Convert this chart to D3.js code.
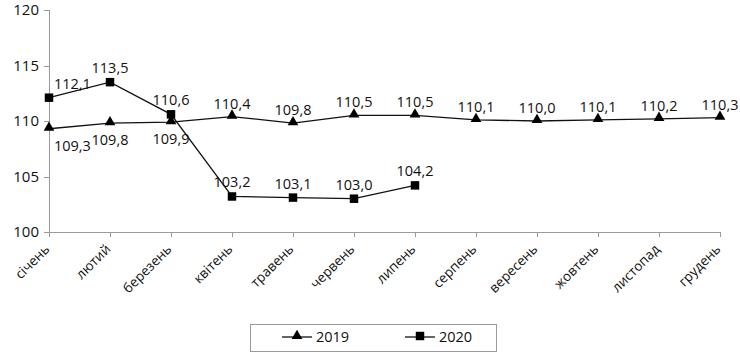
<!DOCTYPE html>
<meta charset="utf-8">
<style>
body { margin: 0; background: #fff; font-family: "Open Sans", "DejaVu Sans", sans-serif; }
.axis path, .axis line { stroke: #9a9a9a; shape-rendering: crispEdges; }
.axis text { font-size: 13.5px; fill: #111; font-family: "Open Sans", sans-serif; }
.lbl { font-size: 14.5px; fill: #111; }
.line { fill: none; stroke: #111; stroke-width: 1.3px; }
</style>
<body>
<script src="https://d3js.org/d3.v7.min.js"></script>
<script>
// months
var months = ["січень", "лютий", "березень", "квітень", "травень", "червень",
  "липень", "серпень", "вересень", "жовтень", "листопад", "грудень"];
var v2019 = [109.3, 109.8, 109.9, 110.4, 109.8, 110.5, 110.5, 110.1, 110.0, 110.1, 110.2, 110.3];
var v2020 = [112.1, 113.5, 110.6, 103.2, 103.1, 103.0, 104.2];
var yTicks = [100, 105, 110, 115, 120];

var svg = d3.select("body").append("svg")
  .attr("width", 740).attr("height", 360);

var x = d3.scalePoint().domain(months).range([49, 720]);
var y = d3.scaleLinear().domain([100, 120]).range([232, 10]);

// y axis
var ya = svg.append("g").attr("class", "axis")
  .attr("transform", "translate(49,0)")
  .call(d3.axisLeft(y).tickValues(yTicks).tickSize(5).tickPadding(5));
ya.selectAll("text").style("font-size", "15px");

// x axis
var xa = svg.append("g").attr("class", "axis")
  .attr("transform", "translate(0,232)")
  .call(d3.axisBottom(x).tickSize(5).tickSizeOuter(0));
xa.select(".domain").attr("d", "M49,0H720");
xa.selectAll("text")
  .attr("text-anchor", "end")
  .attr("dy", 0)
  .attr("y", 0)
  .attr("transform", "translate(1,18) rotate(-45)");

var line = d3.line()
  .x(function(d, i) { return x(months[i]); })
  .y(function(d) { return y(d); });

svg.append("path").datum(v2019).attr("class", "line").attr("d", line);
svg.append("path").datum(v2020).attr("class", "line").attr("d", line);

var tri = d3.symbol().type(d3.symbolTriangle).size(50);
var sq = d3.symbol().type(d3.symbolSquare).size(72);

svg.selectAll(".m19").data(v2019).enter().append("path")
  .attr("d", tri)
  .attr("transform", function(d, i) { return "translate(" + x(months[i]) + "," + (y(d) - 1) + ")"; });

svg.selectAll(".m20").data(v2020).enter().append("path")
  .attr("d", sq)
  .attr("transform", function(d, i) { return "translate(" + x(months[i]) + "," + y(d) + ")"; });

function fmt(v) { return v.toFixed(1).replace(".", ","); }

// 2019 labels: first three below, rest above
svg.selectAll(".l19").data(v2019).enter().append("text")
  .attr("class", "lbl")
  .attr("text-anchor", function(d, i) { return i == 0 ? "start" : "middle"; })
  .attr("x", function(d, i) { return x(months[i]) + (i == 0 ? 5 : 0); })
  .attr("y", function(d, i) { return i < 3 ? y(d) + 22 : y(d) - 8; })
  .text(fmt);

svg.selectAll(".l20").data(v2020).enter().append("text")
  .attr("class", "lbl")
  .attr("text-anchor", function(d, i) { return i == 0 ? "start" : "middle"; })
  .attr("x", function(d, i) { return x(months[i]) + (i == 0 ? 5 : 0); })
  .attr("y", function(d, i) { return y(d) - 9; })
  .text(fmt);

// legend
var lg = svg.append("g");
lg.append("rect").attr("x", 250.5).attr("y", 324.5).attr("width", 246).attr("height", 27)
  .attr("fill", "#fff").attr("stroke", "#9a9a9a");
var items = [{ name: "2019", sym: tri, x: 282 }, { name: "2020", sym: sq, x: 405 }];
items.forEach(function(it) {
  lg.append("line").attr("x1", it.x).attr("x2", it.x + 30).attr("y1", 337).attr("y2", 337)
    .attr("stroke", "#111").attr("stroke-width", 1.3);
  lg.append("path").attr("d", it.sym).attr("transform", "translate(" + (it.x + 15) + ",336)");
  lg.append("text").attr("class", "lbl").attr("x", it.x + 34).attr("y", 342).text(it.name);
});
</script>
</body>
